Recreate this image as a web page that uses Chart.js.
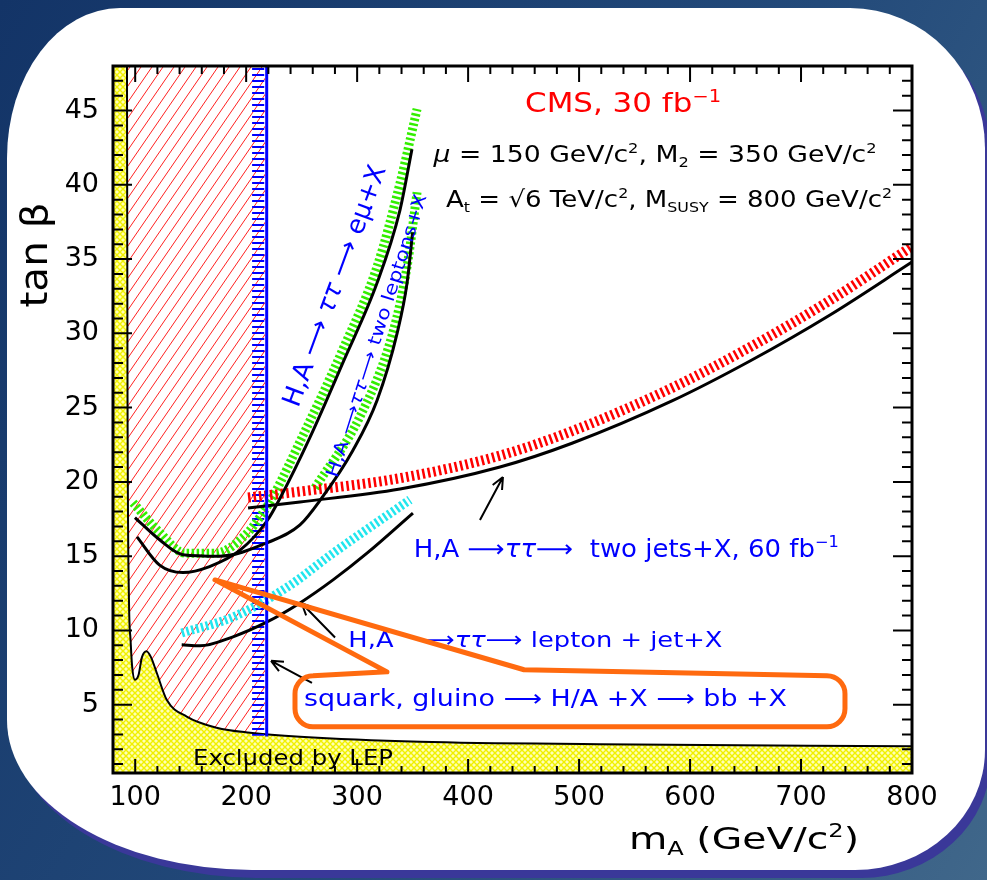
<!DOCTYPE html>
<html>
<head>
<meta charset="utf-8">
<script src="https://cdn.jsdelivr.net/npm/chart.js@4.4.1/dist/chart.umd.min.js"></script>
<style>
  html, body { margin: 0; padding: 0; }
  body {
    width: 987px; height: 880px; overflow: hidden; position: relative;
    background: linear-gradient(120deg, #133467 0%, #234a7a 55%, #40678a 100%);
  }
  #card {
    position: absolute; left: 7px; top: 8px; width: 978px; height: 862px; background: #fff;
    border-radius: 113px 135px 130px 245px / 150px 140px 120px 150px;
    box-shadow: 6px 8px 0 #3a3899;
  }
  #chart { position: absolute; left: 0; top: 0; }
</style>
</head>
<body>
<div id="card"></div>
<canvas id="chart" width="987" height="880"></canvas>
<script>
const FONT = '"DejaVu Sans", "Noto Sans", sans-serif';

// axes
const massTicks = [100, 200, 300, 400, 500, 600, 700, 800];
const tanBetaTicks = [5, 10, 15, 20, 25, 30, 35, 40, 45];
const massRange = [80, 800];
const tanBetaRange = [0.4, 48];

// LEP excluded region (boundary curve)
const lepMass    = [92.6, 93.1, 94.4, 95.8, 97.1, 99.8, 103.0, 106.1, 110.2, 114.2, 119.4, 128.4, 146.4, 173.4, 203.5, 248.5, 356.7, 518.9, 800];
const lepTanBeta = [48, 25.5, 12.05, 9.4, 7.7, 6.68, 7.0, 8.2, 8.6, 8.2, 7.15, 5.33, 4.2, 3.45, 3.11, 2.84, 2.5, 2.34, 2.2];

// squark, gluino -> H/A + X -> bb + X  (m_A limit)
const bbLimitMass = 218.5;
const bbHatchMass = [205.3, 216.5];
const bbLimitTanBeta = [2.85, 48];
const redZoneEdge = 217;

// H,A -> tautau -> e mu + X
const emuMass        = [101.6, 122, 143, 167, 194.5, 219, 230.5, 257.5, 287, 318, 338.6, 349.4];
const emuTanBeta     = [16.3, 14.4, 13.9, 14.3, 15.4, 17.4, 18.9, 23.0, 28.0, 33.4, 38.3, 42.4];
const emuBandMass    = [98, 122, 145, 172, 199, 214, 224, 251, 287, 318, 338.6, 354];
const emuBandTanBeta = [18.6, 16.6, 15.2, 15.2, 16.4, 17.8, 19.0, 23.1, 28.9, 34.5, 40.1, 45.1];

// H,A -> tautau -> two leptons + X
const llMass        = [99.8, 122, 143, 176, 218.8, 248.5, 268, 296, 318, 336, 345, 350];
const llTanBeta     = [17.6, 16.1, 15.1, 15.0, 15.9, 17.1, 18.9, 22.1, 25.5, 30.0, 33.4, 36.8];
const llBandMass    = [262, 302.6, 332, 345, 354];
const llBandTanBeta = [19.6, 24.4, 30.0, 34.5, 39.5];

// H,A -> tautau -> two jets + X, 60 fb-1
const jjMass        = [201.7, 248.5, 338.6, 428.7, 493.6, 583.7, 654, 726.1, 800];
const jjTanBeta     = [18.24, 18.65, 19.52, 21.0, 22.6, 25.45, 28.14, 31.24, 34.8];
const jjBandTanBeta = [18.95, 19.35, 20.25, 21.77, 23.42, 26.33, 29.07, 32.22, 35.85];

// H,A -> tautau -> lepton + jet + X
const ljMass        = [141.9, 158.4, 188.1, 218.8, 248.5, 278.3, 308.9, 350.3];
const ljTanBeta     = [9.03, 8.96, 9.57, 10.57, 11.85, 13.4, 15.2, 17.9];
const ljBandMass    = [141.9, 188.1, 236.8, 278.3, 347.6];
const ljBandTanBeta = [9.83, 10.9, 12.9, 15.2, 18.8];

const RED = '#ff0000', BLUE = '#0000ff', GREEN = '#33ee00', CYAN = '#22e6ee', ORANGE = '#ff6a0f';

// text placed in (m_A, tan beta) coordinates
const notes = [
  { parts: [['CMS, 30 fb'], ['\u22121', 'sup']], at: [451.3, 44.87], size: 27, width: 196, color: RED },
  { parts: [['\u03bc', 'it'], [' = 150 GeV/c'], ['2', 'sup'], [', M'], ['2', 'sub'], [' = 350 GeV/c'], ['2', 'sup']],
    at: [368.9, 41.53], size: 23, width: 443, color: '#000' },
  { parts: [['A'], ['t', 'sub'], [' = \u221a6 TeV/c'], ['2', 'sup'], [', M'], ['SUSY', 'sub'], [' = 800 GeV/c'], ['2', 'sup']],
    at: [380.1, 38.5], size: 23, width: 446, color: '#000' },
  { parts: [['H,A \u27f6 '], ['\u03c4\u03c4', 'it'], [' \u27f6 e\u03bc+X']], at: [280.8, 33.17], size: 26, width: 255,
    angle: -69.8, align: 'center', baseline: 'middle', color: BLUE },
  { parts: [['H,A \u27f6'], ['\u03c4\u03c4', 'it'], ['\u27f6 two leptons+X']], at: [318.4, 29.82], size: 18, width: 296,
    angle: -72.4, align: 'center', baseline: 'middle', color: BLUE },
  { parts: [['H,A \u27f6'], ['\u03c4\u03c4', 'it'], ['\u27f6  two jets+X, 60 fb'], ['\u22121', 'sup']],
    at: [351.1, 14.95], size: 24, width: 425, color: BLUE },
  { parts: [['H,A   \u27f6'], ['\u03c4\u03c4', 'it'], ['\u27f6 lepton + jet+X']], at: [292.1, 8.91], size: 22, width: 374, color: BLUE },
  { parts: [['squark, gluino \u27f6 H/A +X \u27f6 bb +X']], at: [252.1, 4.88], size: 23, width: 483, color: BLUE },
  { parts: [['Excluded by LEP']], at: [152.1, 0.96], size: 21, width: 200, color: '#000' },
];

const arrows = [
  { from: [410.7, 17.44], to: [431.4, 20.33] },
  { from: [280.1, 9.52], to: [250.0, 11.83] },
  { from: [259.3, 6.47], to: [222.4, 7.95] },
];

// orange call-out round the squark/gluino label
const callout = { tip: [171.9, 13.4], base: [[326.9, 7.21], [450.4, 7.35]], box: [244.0, 739.6, 6.95, 3.51] };

function pts(xs, ys) {
  return xs.map((x, i) => ({ x, y: ys[i] }));
}

function makePattern(w, h, draw) {
  const c = document.createElement('canvas');
  c.width = w; c.height = h;
  const g = c.getContext('2d');
  draw(g, w, h);
  return g.createPattern(c, 'repeat');
}

const yellowHatch = makePattern(6, 6, (g, w, h) => {
  g.fillStyle = '#ffffb4'; g.fillRect(0, 0, w, h);
  g.strokeStyle = '#f0f000'; g.lineWidth = 1.4;
  g.beginPath();
  g.moveTo(0, 0); g.lineTo(w, h); g.moveTo(w, 0); g.lineTo(0, h);
  g.stroke();
});
const redHatch = makePattern(11, 16, (g, w, h) => {
  g.strokeStyle = '#ff2020'; g.lineWidth = 1;
  g.beginPath();
  for (const o of [-w, 0, w]) { g.moveTo(o, h); g.lineTo(o + w, 0); }
  g.stroke();
});
const blueHatch = makePattern(8, 6, (g, w) => {
  g.fillStyle = BLUE; g.fillRect(0, 2, w, 2);
});

// red zone = LEP curve up to the bb limit, filled to the top
function redZonePoints() {
  const out = [];
  for (let i = 0; i < lepMass.length; i++) {
    if (lepMass[i] <= redZoneEdge) { out.push({ x: lepMass[i], y: lepTanBeta[i] }); continue; }
    const x0 = lepMass[i - 1], y0 = lepTanBeta[i - 1];
    const t = (redZoneEdge - x0) / (lepMass[i] - x0);
    out.push({ x: redZoneEdge, y: y0 + t * (lepTanBeta[i] - y0) });
    break;
  }
  return out;
}

const curve = (data, color, width, extra) => Object.assign({
  data, borderColor: color, borderWidth: width, fill: false,
  cubicInterpolationMode: 'monotone', pointRadius: 0
}, extra || {});

// listed back to front
const layers = [
  curve(redZonePoints(), 'transparent', 0, { fill: 'end', backgroundColor: redHatch }),
  curve([{ x: massRange[0], y: tanBetaRange[1] }, { x: lepMass[0], y: tanBetaRange[1] }], 'transparent', 0,
        { fill: 'start', backgroundColor: yellowHatch, cubicInterpolationMode: 'default', tension: 0 }),
  curve(pts(lepMass, lepTanBeta), '#000', 2, { fill: 'start', backgroundColor: yellowHatch }),
  curve([{ x: bbHatchMass[0], y: bbLimitTanBeta[0] + 0.05 }, { x: bbHatchMass[1], y: bbLimitTanBeta[0] + 0.05 }], 'transparent', 0,
        { fill: 'end', backgroundColor: blueHatch, cubicInterpolationMode: 'default', tension: 0 }),
  curve(pts(emuBandMass, emuBandTanBeta), GREEN, 9, { borderDash: [2.5, 2.5] }),
  curve(pts(llBandMass, llBandTanBeta), GREEN, 9, { borderDash: [2.5, 2.5] }),
  curve(pts(jjMass, jjBandTanBeta), RED, 10, { borderDash: [2.5, 3] }),
  curve(pts(ljBandMass, ljBandTanBeta), CYAN, 9, { borderDash: [2.5, 2.5] }),
  curve(pts(emuMass, emuTanBeta), '#000', 3),
  curve(pts(llMass, llTanBeta), '#000', 3),
  curve(pts(jjMass, jjTanBeta), '#000', 3),
  curve(pts(ljMass, ljTanBeta), '#000', 3),
  curve([{ x: bbLimitMass, y: bbLimitTanBeta[0] }, { x: bbLimitMass, y: bbLimitTanBeta[1] }], BLUE, 3,
        { cubicInterpolationMode: 'default', tension: 0 }),
];
layers.forEach((d, i) => { d.order = layers.length - i; });

function rich(ctx, parts, size, x, y, o) {
  const segs = parts.map(([t, mode = '']) => {
    const small = mode === 'sup' || mode === 'sub';
    const font = (mode === 'it' ? 'italic ' : '') + (small ? Math.round(size * 0.62) : size) + 'px ' + FONT;
    ctx.font = font;
    return { t, mode, font, w: ctx.measureText(t).width };
  });
  const total = segs.reduce((s, g) => s + g.w, 0);
  ctx.save();
  ctx.translate(x, y);
  if (o.angle) ctx.rotate(o.angle * Math.PI / 180);
  ctx.scale(o.width ? o.width / total : 1, 1);
  ctx.fillStyle = o.color || '#000';
  ctx.textBaseline = o.baseline || 'alphabetic';
  ctx.textAlign = 'left';
  let cx = o.align === 'center' ? -total / 2 : 0;
  segs.forEach(g => {
    ctx.font = g.font;
    const dy = g.mode === 'sup' ? -size * 0.4 : g.mode === 'sub' ? size * 0.2 : 0;
    ctx.fillText(g.t, cx, dy);
    cx += g.w;
  });
  ctx.restore();
}

const decor = {
  id: 'decor',
  afterDatasetsDraw(chart) {
    const ctx = chart.ctx, xs = chart.scales.x, ys = chart.scales.y, a = chart.chartArea;
    const P = ([m, t]) => [xs.getPixelForValue(m), ys.getPixelForValue(t)];

    ctx.save();
    ctx.beginPath();
    ctx.rect(a.left, a.top, a.right - a.left, a.bottom - a.top);
    ctx.clip();

    notes.forEach(n => {
      const [x, y] = P(n.at);
      rich(ctx, n.parts, n.size, x, y, n);
    });

    // arrows
    ctx.strokeStyle = '#000';
    ctx.lineWidth = 2;
    arrows.forEach(ar => {
      const [x1, y1] = P(ar.from), [x2, y2] = P(ar.to);
      const ang = Math.atan2(y2 - y1, x2 - x1);
      ctx.beginPath();
      ctx.moveTo(x1, y1); ctx.lineTo(x2, y2);
      for (const s of [-1, 1]) {
        ctx.moveTo(x2, y2);
        ctx.lineTo(x2 - 13 * Math.cos(ang + s * 0.42), y2 - 13 * Math.sin(ang + s * 0.42));
      }
      ctx.stroke();
    });

    // call-out
    const [L, R] = [xs.getPixelForValue(callout.box[0]), xs.getPixelForValue(callout.box[1])];
    const [T, B] = [ys.getPixelForValue(callout.box[2]), ys.getPixelForValue(callout.box[3])];
    const r = 18;
    const tip = P(callout.tip), b1 = P(callout.base[0]), b2 = P(callout.base[1]);
    ctx.beginPath();
    ctx.moveTo(L + r, T);
    ctx.lineTo(b1[0], b1[1]);
    ctx.lineTo(tip[0], tip[1]);
    ctx.lineTo(b2[0], b2[1]);
    ctx.lineTo(R - r, T);
    ctx.arcTo(R, T, R, T + r, r);
    ctx.lineTo(R, B - r);
    ctx.arcTo(R, B, R - r, B, r);
    ctx.lineTo(L + r, B);
    ctx.arcTo(L, B, L, B - r, r);
    ctx.lineTo(L, T + r);
    ctx.arcTo(L, T, L + r, T, r);
    ctx.closePath();
    ctx.strokeStyle = ORANGE;
    ctx.lineWidth = 5;
    ctx.lineJoin = 'round';
    ctx.stroke();
    ctx.restore();

    // inward ticks on all four sides
    ctx.save();
    ctx.strokeStyle = '#000';
    ctx.lineWidth = 2;
    ctx.beginPath();
    for (let v = massRange[0] + 20; v < massRange[1]; v += 20) {
      const x = xs.getPixelForValue(v), major = v % 100 === 0;
      ctx.moveTo(x, a.bottom); ctx.lineTo(x, a.bottom - (major ? 14 : 7));
      ctx.moveTo(x, a.top); ctx.lineTo(x, a.top + (major ? 16 : 8));
    }
    for (let v = 1; v < tanBetaRange[1]; v += 1) {
      const y = ys.getPixelForValue(v), major = v % 5 === 0;
      ctx.moveTo(a.left, y); ctx.lineTo(a.left + (major ? 19 : 10), y);
      ctx.moveTo(a.right, y); ctx.lineTo(a.right - (major ? 19 : 10), y);
    }
    ctx.stroke();
    ctx.lineWidth = 3;
    ctx.strokeRect(a.left, a.top, a.right - a.left, a.bottom - a.top);

    // axis titles
    rich(ctx, [['tan \u03b2']], 38, 37, 255, { angle: -90, align: 'center', baseline: 'middle', width: 105 });
    rich(ctx, [['m'], ['A', 'sub'], [' (GeV/c'], ['2', 'sup'], [')']], 31, 629, 849, { width: 230 });
    ctx.restore();
  }
};

new Chart(document.getElementById('chart'), {
  type: 'line',
  data: { datasets: layers },
  options: {
    responsive: false,
    animation: false,
    layout: { padding: { top: 66, right: 75, bottom: 0, left: 0 } },
    plugins: { legend: { display: false }, tooltip: { enabled: false } },
    scales: {
      x: {
        type: 'linear', min: massRange[0], max: massRange[1],
        grid: { display: false, drawTicks: false }, border: { display: false },
        ticks: { color: '#000', font: { family: FONT, size: 27 }, padding: 9, maxRotation: 0, autoSkip: false },
        afterBuildTicks: s => { s.ticks = massTicks.map(v => ({ value: v })); },
        afterFit: s => { s.height = 107; }
      },
      y: {
        type: 'linear', min: tanBetaRange[0], max: tanBetaRange[1],
        grid: { display: false, drawTicks: false }, border: { display: false },
        ticks: { color: '#000', font: { family: FONT, size: 27 }, padding: 14, autoSkip: false },
        afterBuildTicks: s => { s.ticks = tanBetaTicks.map(v => ({ value: v })); },
        afterFit: s => { s.width = 113; }
      }
    }
  },
  plugins: [decor]
});
</script>
</body>
</html>
